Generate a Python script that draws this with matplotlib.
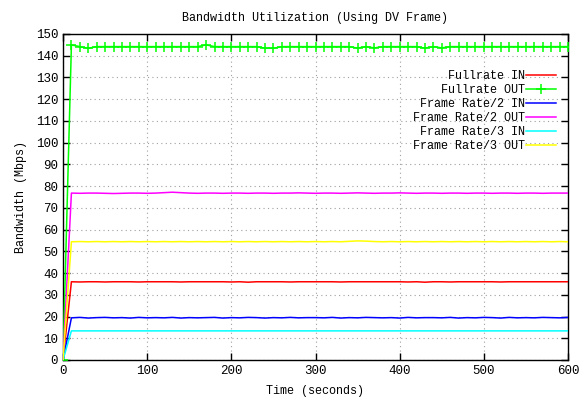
import numpy as np
import matplotlib
matplotlib.use("Agg")
import matplotlib.pyplot as plt

time_s = list(range(0, 601, 10))

fullrate_out = [0, 145.0, 144.2, 143.4, 144.2, 144.2, 144.2, 144.2, 144.2, 144.2,
                144.2, 144.2, 144.2, 144.2, 144.2, 144.2, 144.2, 145.0, 144.2, 144.2,
                144.2, 144.2, 144.2, 144.2, 143.5, 143.4, 144.2, 144.2, 144.2, 144.2,
                144.2, 144.2, 144.2, 144.2, 144.2, 143.5, 144.2, 143.6, 144.2, 144.2,
                144.2, 144.2, 144.2, 143.5, 144.2, 143.6, 144.2, 144.2, 144.2, 144.2,
                144.2, 144.2, 144.2, 144.2, 144.2, 144.2, 144.2, 144.2, 144.2, 144.2, 144.2]

fullrate_in = [0] + [36.0, 35.9, 36.0, 36.0, 35.9, 36.0, 36.0, 36.0, 35.9, 36.0,
                     36.0, 36.0, 36.0, 35.9, 36.0, 36.0, 36.0, 36.0, 36.0, 35.9,
                     36.0, 35.8, 36.0, 36.0, 36.0, 36.0, 35.9, 36.0, 36.0, 36.0,
                     36.0, 36.0, 35.9, 36.0, 36.0, 36.0, 36.0, 36.0, 36.0, 36.0,
                     35.9, 36.0, 35.8, 36.0, 36.0, 35.9, 36.0, 36.0, 36.0, 36.0,
                     36.0, 35.9, 36.0, 36.0, 36.0, 36.0, 36.0, 36.0, 36.0, 36.0]

half_in = [0] + [19.4, 19.6, 19.3, 19.5, 19.6, 19.4, 19.5, 19.3, 19.6, 19.4,
                 19.5, 19.4, 19.6, 19.3, 19.5, 19.4, 19.5, 19.6, 19.3, 19.5,
                 19.4, 19.6, 19.5, 19.3, 19.5, 19.4, 19.6, 19.4, 19.5, 19.5,
                 19.4, 19.6, 19.3, 19.5, 19.4, 19.6, 19.5, 19.4, 19.5, 19.3,
                 19.6, 19.4, 19.5, 19.5, 19.4, 19.6, 19.3, 19.5, 19.4, 19.6,
                 19.5, 19.3, 19.6, 19.4, 19.5, 19.4, 19.6, 19.5, 19.4, 19.6]

half_out = [0] + [76.8, 76.7, 76.8, 76.8, 76.7, 76.6, 76.7, 76.8, 76.8, 76.7,
                  76.8, 77.0, 77.2, 77.0, 76.8, 76.7, 76.8, 76.8, 76.7, 76.8,
                  76.8, 76.7, 76.8, 76.8, 76.7, 76.8, 76.8, 76.9, 76.8, 76.7,
                  76.8, 76.8, 76.7, 76.8, 76.9, 76.8, 76.7, 76.8, 76.8, 76.9,
                  76.8, 76.7, 76.8, 76.8, 76.7, 76.8, 76.8, 76.7, 76.8, 76.8,
                  76.7, 76.8, 76.8, 76.7, 76.8, 76.8, 76.7, 76.8, 76.8, 76.8]

third_in = [0] + [13.4] * 60

third_out = [0] + [54.4, 54.5, 54.4, 54.5, 54.4, 54.5, 54.4, 54.5, 54.4, 54.5,
                   54.4, 54.5, 54.4, 54.5, 54.4, 54.5, 54.4, 54.5, 54.4, 54.5,
                   54.4, 54.5, 54.4, 54.5, 54.4, 54.5, 54.4, 54.5, 54.4, 54.5,
                   54.4, 54.5, 54.4, 54.6, 54.8, 54.7, 54.5, 54.4, 54.5, 54.4,
                   54.5, 54.4, 54.5, 54.4, 54.5, 54.4, 54.5, 54.4, 54.5, 54.4,
                   54.5, 54.4, 54.5, 54.4, 54.5, 54.4, 54.5, 54.4, 54.5, 54.4]

series_labels = ["Fullrate IN", "Fullrate OUT", "Frame Rate/2 IN",
                 "Frame Rate/2 OUT", "Frame Rate/3 IN", "Frame Rate/3 OUT"]

x_ticks = [0, 100, 200, 300, 400, 500, 600]
y_ticks = list(range(0, 151, 10))

FONT = "Liberation Mono"
plt.rcParams["font.family"] = [FONT, "DejaVu Sans Mono"]

fig = plt.figure(figsize=(5.87, 4.07), dpi=100)
ax = fig.add_axes([63/587, 1-360/407, (568-63)/587, (360-34)/407])

colors = ["#ff0000", "#00ff00", "#0000ff", "#ff00ff", "#00ffff", "#ffff00"]
data = [fullrate_in, fullrate_out, half_in, half_out, third_in, third_out]

for i, (vals, lab, c) in enumerate(zip(data, series_labels, colors)):
    if i == 1:
        ax.plot(time_s, vals, color=c, lw=1.1, marker="+", markersize=6.5,
                markeredgewidth=1.1, label=lab, zorder=3)
    else:
        ax.plot(time_s, vals, color=c, lw=1.1, label=lab, zorder=3)

ax.set_xlim(0, 600)
ax.set_ylim(0, 150)
ax.set_xticks(x_ticks)
ax.set_yticks(y_ticks)
ax.tick_params(direction="in", top=True, right=True, labelsize=9, length=5, width=1)
ax.grid(True, color="#a0a0a0", linestyle=(0, (1, 3)), linewidth=0.8)
for s in ax.spines.values():
    s.set_linewidth(1.0)

ax.set_title("Bandwidth Utilization (Using DV Frame)", fontsize=8.5, pad=9)
ax.set_xlabel("Time (seconds)", fontsize=8.5, labelpad=6)
ax.set_ylabel("Bandwidth (Mbps)", fontsize=8.5, labelpad=6)

leg = ax.legend(loc="upper right", bbox_to_anchor=(0.985, 0.905), frameon=False,
                markerfirst=False, fontsize=8.5, handlelength=2.5,
                handletextpad=0.1, labelspacing=0.18, borderaxespad=0)
for t in leg.get_texts():
    t.set_ha("right")

fig.savefig("out.png", dpi=100)
